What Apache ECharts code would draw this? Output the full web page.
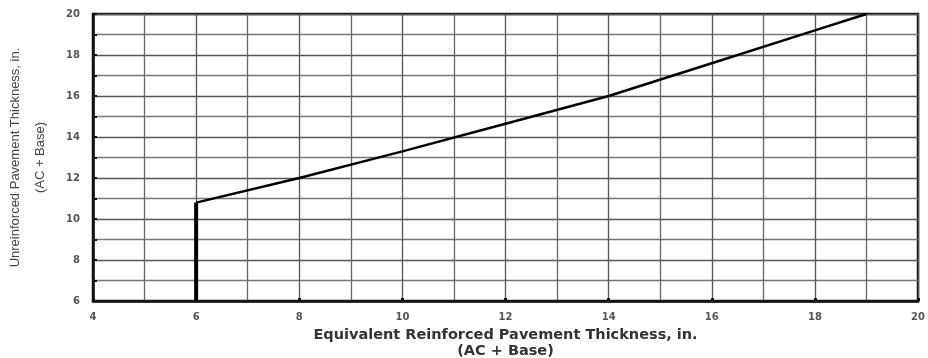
<!DOCTYPE html>
<html><head><meta charset="utf-8">
<script src="https://cdn.jsdelivr.net/npm/echarts@6/dist/echarts.min.js"></script>
<style>html,body{margin:0;padding:0;background:#fff}#c{width:928px;height:358px}</style>
</head><body><div id="c"></div>
<script>
const xName = 'Equivalent Reinforced Pavement Thickness, in.\n(AC + Base)';
const yName = 'Unreinforced Pavement Thickness, in.\n(AC + Base)';
const verticalPart = [[6, 6], [6, 10.8]];
const curvePart = [[6, 10.8], [8, 12], [10, 13.3], [12, 14.65], [14, 16], [16, 17.6], [18, 19.2], [19, 20]];

const chart = echarts.init(document.getElementById('c'));
chart.setOption({
  animation: false,
  grid: {left: 93, right: 10, top: 14, bottom: 57, containLabel: false, outerBoundsMode: 'none', show: true, borderColor: '#111', borderWidth: 2.5, backgroundColor: '#fff'},
  xAxis: {
    type: 'value', min: 4, max: 20, interval: 2,
    name: xName, nameLocation: 'middle', nameGap: 18,
    nameTextStyle: {fontFamily: 'DejaVu Sans', fontWeight: 'bold', fontSize: 14.5, color: '#333', lineHeight: 16, verticalAlign: 'top'},
    axisLine: {show: true, lineStyle: {color: '#111', width: 2.5}},
    axisTick: {show: true, inside: true, length: 3, lineStyle: {color: '#111', width: 3}},
    axisLabel: {margin: 11, fontFamily: 'DejaVu Sans', fontWeight: 'bold', fontSize: 10, color: '#555'},
    splitLine: {show: true, lineStyle: {color: '#555', width: 1.3}},
    minorTick: {show: false, splitNumber: 2},
    minorSplitLine: {show: true, lineStyle: {color: '#666', width: 1.3}}
  },
  yAxis: {
    type: 'value', min: 6, max: 20, interval: 2,
    name: yName, nameLocation: 'middle', nameGap: 40, nameRotate: 90,
    nameTextStyle: {fontFamily: 'Liberation Sans Narrow, Liberation Sans, Arial', fontSize: 13, color: '#444', lineHeight: 25},
    axisLine: {show: true, lineStyle: {color: '#111', width: 2.5}},
    axisTick: {show: true, inside: true, length: 4, lineStyle: {color: '#111', width: 2}},
    axisLabel: {margin: 13, fontFamily: 'DejaVu Sans', fontWeight: 'bold', fontSize: 10, color: '#555'},
    splitLine: {show: true, lineStyle: {color: '#555', width: 1.3}},
    minorTick: {show: true, splitNumber: 2, length: 4, lineStyle: {color: '#111', width: 2}},
    minorSplitLine: {show: true, lineStyle: {color: '#777', width: 1.3}}
  },
  series: [
    {type: 'line', data: verticalPart, symbol: 'none', lineStyle: {color: '#000', width: 4}, z: 5},
    {type: 'line', data: curvePart, symbol: 'none', lineStyle: {color: '#000', width: 2.5}, z: 5}
  ]
});
</script></body></html>
